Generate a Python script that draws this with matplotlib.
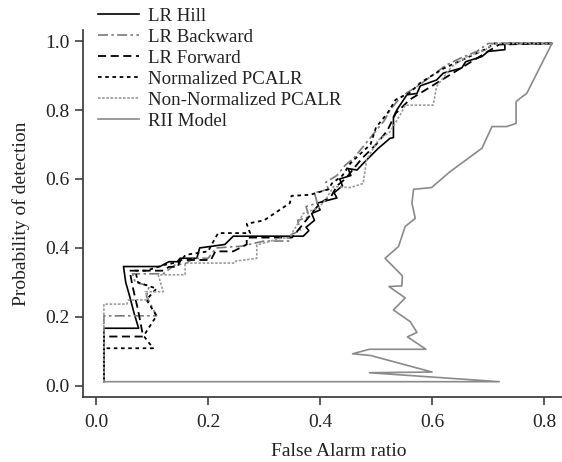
import matplotlib.pyplot as plt

plt.rcParams["font.family"] = ["Liberation Serif", "DejaVu Serif"]
plt.rcParams["font.size"] = 14

# curve points (false alarm ratio, probability of detection)
hill_x = [0.014, 0.014, 0.076, 0.068, 0.060, 0.053, 0.049, 0.114, 0.130, 0.145, 0.150, 0.180,
          0.185, 0.230, 0.245, 0.370, 0.380, 0.375, 0.390, 0.385, 0.400, 0.395, 0.430, 0.425,
          0.440, 0.435, 0.455, 0.450, 0.466, 0.477, 0.504, 0.525, 0.531, 0.531, 0.537, 0.555,
          0.573, 0.579, 0.608, 0.620, 0.653, 0.660, 0.689, 0.700, 0.730, 0.730, 0.814]
hill_y = [0.012, 0.167, 0.167, 0.210, 0.260, 0.300, 0.346, 0.346, 0.360, 0.360, 0.370, 0.370,
          0.400, 0.410, 0.434, 0.434, 0.450, 0.460, 0.480, 0.500, 0.510, 0.530, 0.545, 0.560,
          0.580, 0.600, 0.610, 0.630, 0.626, 0.645, 0.689, 0.718, 0.720, 0.780, 0.800, 0.844,
          0.848, 0.870, 0.887, 0.907, 0.922, 0.940, 0.955, 0.970, 0.975, 0.993, 0.993]

back_x = [0.014, 0.014, 0.062, 0.108, 0.090, 0.095, 0.070, 0.065, 0.120, 0.140, 0.160, 0.175,
          0.200, 0.215, 0.260, 0.300, 0.345, 0.350, 0.365, 0.360, 0.380, 0.375, 0.395, 0.390,
          0.415, 0.410, 0.430, 0.445, 0.460, 0.480, 0.500, 0.515, 0.525, 0.540, 0.555, 0.575,
          0.600, 0.625, 0.650, 0.680, 0.700, 0.814]
back_y = [0.012, 0.203, 0.203, 0.203, 0.260, 0.290, 0.300, 0.325, 0.325, 0.350, 0.355, 0.370,
          0.370, 0.400, 0.405, 0.420, 0.420, 0.440, 0.450, 0.480, 0.490, 0.520, 0.530, 0.560,
          0.570, 0.590, 0.610, 0.640, 0.660, 0.700, 0.740, 0.770, 0.800, 0.830, 0.850, 0.870,
          0.900, 0.930, 0.950, 0.970, 0.993, 0.993]

fwd_x = [0.014, 0.014, 0.084, 0.075, 0.065, 0.060, 0.120, 0.130, 0.146, 0.150, 0.205, 0.213,
         0.245, 0.269, 0.269, 0.350, 0.360, 0.370, 0.380, 0.390, 0.400, 0.420, 0.430, 0.445,
         0.460, 0.475, 0.500, 0.520, 0.535, 0.560, 0.575, 0.600, 0.630, 0.660, 0.690, 0.720,
         0.814]
fwd_y = [0.012, 0.143, 0.143, 0.220, 0.290, 0.334, 0.334, 0.345, 0.345, 0.365, 0.365, 0.390,
         0.390, 0.410, 0.430, 0.430, 0.450, 0.470, 0.490, 0.510, 0.530, 0.550, 0.580, 0.600,
         0.630, 0.660, 0.700, 0.740, 0.790, 0.830, 0.845, 0.870, 0.900, 0.930, 0.960, 0.990,
         0.993]

norm_x = [0.014, 0.014, 0.102, 0.085, 0.108, 0.090, 0.108, 0.075, 0.070, 0.090, 0.120, 0.150,
          0.160, 0.200, 0.210, 0.218, 0.275, 0.269, 0.300, 0.346, 0.349, 0.382, 0.415, 0.421,
          0.440, 0.454, 0.470, 0.490, 0.500, 0.520, 0.535, 0.560, 0.580, 0.620, 0.660, 0.700,
          0.710, 0.814]
norm_y = [0.012, 0.109, 0.109, 0.145, 0.203, 0.250, 0.282, 0.300, 0.334, 0.334, 0.350, 0.360,
          0.380, 0.390, 0.420, 0.443, 0.443, 0.470, 0.480, 0.530, 0.551, 0.554, 0.570, 0.587,
          0.610, 0.645, 0.670, 0.700, 0.750, 0.790, 0.830, 0.850, 0.880, 0.920, 0.950, 0.980,
          0.993, 0.993]

nonnorm_x = [0.014, 0.014, 0.055, 0.058, 0.093, 0.088, 0.120, 0.111, 0.159, 0.159, 0.248, 0.250,
             0.287, 0.287, 0.329, 0.345, 0.360, 0.370, 0.397, 0.410, 0.424, 0.454, 0.477, 0.483,
             0.504, 0.525, 0.543, 0.552, 0.602, 0.608, 0.635, 0.662, 0.695, 0.709, 0.814]
nonnorm_y = [0.012, 0.237, 0.237, 0.249, 0.249, 0.273, 0.273, 0.322, 0.322, 0.356, 0.356, 0.362,
             0.370, 0.408, 0.428, 0.430, 0.470, 0.500, 0.516, 0.540, 0.578, 0.575, 0.587, 0.655,
             0.713, 0.737, 0.786, 0.814, 0.814, 0.868, 0.926, 0.955, 0.974, 0.993, 0.993]

rii_x = [0.814, 0.769, 0.757, 0.750, 0.750, 0.733, 0.707, 0.689, 0.632, 0.599, 0.567, 0.564,
         0.570, 0.552, 0.540, 0.516, 0.547, 0.546, 0.523, 0.552, 0.531, 0.561, 0.573, 0.556,
         0.589, 0.488, 0.458, 0.490, 0.600, 0.488, 0.720, 0.014]
rii_y = [0.993, 0.848, 0.834, 0.824, 0.761, 0.752, 0.752, 0.689, 0.621, 0.575, 0.570, 0.530,
         0.486, 0.462, 0.404, 0.370, 0.319, 0.290, 0.288, 0.255, 0.220, 0.186, 0.155, 0.142,
         0.106, 0.106, 0.093, 0.088, 0.040, 0.038, 0.012, 0.012]

fig = plt.figure(figsize=(5.62, 4.62), dpi=100)
ax = fig.add_axes([0.148, 0.141, 0.852, 0.794])

l1, = ax.plot(hill_x, hill_y, color="black", lw=1.2, label="LR Hill")
l2, = ax.plot(back_x, back_y, color="#7a7a7a", lw=1.2, ls=(0, (6, 2, 1.5, 2)), label="LR Backward")
l3, = ax.plot(fwd_x, fwd_y, color="black", lw=1.3, ls=(0, (4.5, 2.5)), label="LR Forward")
l4, = ax.plot(norm_x, norm_y, color="black", lw=1.3, ls=(0, (2, 2)), label="Normalized PCALR")
l5, = ax.plot(nonnorm_x, nonnorm_y, color="#9a9a9a", lw=1.2, ls=(0, (1.5, 1)), label="Non-Normalized PCALR")
l6, = ax.plot(rii_x, rii_y, color="#8a8a8a", lw=1.2, label="RII Model")

ax.set_xlim(-0.023, 0.832)
ax.set_ylim(-0.032, 1.032)
ax.set_xticks([0.0, 0.2, 0.4, 0.6, 0.8])
ax.set_yticks([0.0, 0.2, 0.4, 0.6, 0.8, 1.0])
ax.set_xticklabels(["0.0", "0.2", "0.4", "0.6", "0.8"])
ax.set_yticklabels(["0.0", "0.2", "0.4", "0.6", "0.8", "1.0"])

for s in ["top", "right"]:
    ax.spines[s].set_visible(False)
for s in ["left", "bottom"]:
    ax.spines[s].set_color("#333333")
    ax.spines[s].set_linewidth(1.2)
ax.tick_params(direction="out", length=6, width=1.1, color="#333333", labelcolor="#222222")
ax.tick_params(axis="x", pad=6.5)
ax.tick_params(axis="y", pad=3.5)

ax.set_xlabel("False Alarm ratio", color="#222222", labelpad=3)
ax.xaxis.set_label_coords(0.534, -0.125)
ax.set_ylabel("Probability of detection", color="#222222", labelpad=6)
ax.yaxis.set_label_coords(-0.112, 0.5)

fig.legend(handles=[l1, l2, l3, l4, l5, l6], loc="upper left", bbox_to_anchor=(0.155, 1.008),
           frameon=False, handlelength=2.15, handletextpad=0.5, labelspacing=0.2, borderpad=0.1,
           fontsize=13.6, labelcolor="#222222")

fig.savefig("out.png", dpi=100)
